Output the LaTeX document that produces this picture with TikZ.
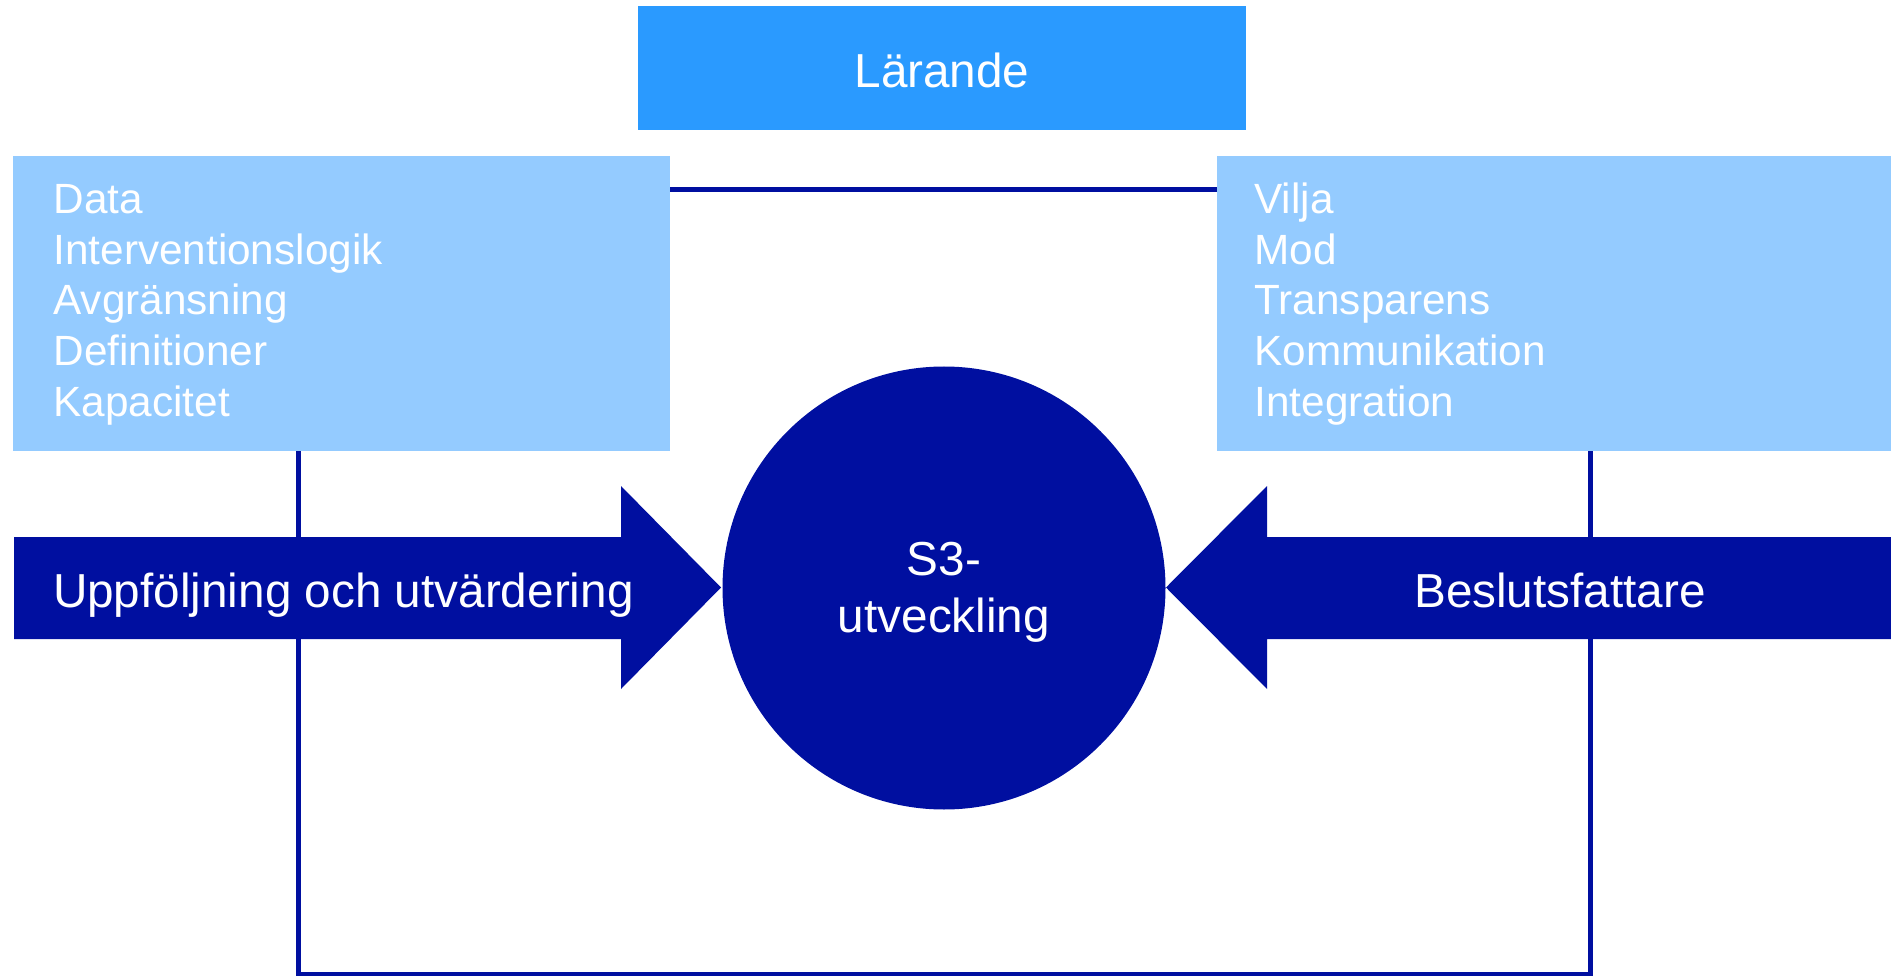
\documentclass[tikz,border=0pt]{standalone}
\usepackage{fontspec}
\setmainfont{Liberation Sans}
\definecolor{blaa}{RGB}{42,154,255}
\definecolor{ljusblaa}{RGB}{148,203,255}
\definecolor{morkblaa}{RGB}{0,15,160}
\begin{document}
\begin{tikzpicture}[x=1pt,y=-1pt,line width=5pt,
	ruta/.style={fill=ljusblaa,anchor=north west,inner sep=0pt,outer sep=0pt,minimum height=295pt},
	stor/.style={text=white,inner sep=0pt,outer sep=0pt,font=\fontsize{47.7}{57.2}\selectfont},
	lista/.style={text=white,inner sep=0pt,anchor=base west,font=\fontsize{42.3}{50.6}\selectfont}]
		\useasboundingbox (0,0) rectangle (1891,976);
		\coordinate (hornV) at (298,974);
		\coordinate (hornH) at (1590,974);
		\node[ruta,minimum width=657pt] (kunskap) at (13,156) {};
		\node[ruta,minimum width=674pt] (ledning) at (1217,156) {};
		\draw[morkblaa] ([yshift=-34pt]kunskap.north east) -- ([yshift=-34pt]ledning.north west);
		\draw[morkblaa] (kunskap.south -| hornV) -- (hornV) -- (hornH) -- (ledning.south -| hornH);
		\node[stor,fill=blaa,anchor=north west,minimum width=608pt,minimum height=124pt,text height=40pt,text depth=0pt] (larande) at (638,6) {Lärande};
		\foreach \t [count=\i] in {Data,Interventionslogik,Avgränsning,Definitioner,Kapacitet}
		\node[lista] (k\i) at (51,163.5+50.5*\i) {\t};
		\foreach \t [count=\i] in {Vilja,Mod,Transparens,Kommunikation,Integration}
		\node[lista] (l\i) at (1252,163.5+50.5*\i) {\t};
		\fill[morkblaa] (14,537) -- (621,537) -- (621,486) -- (721,587.5) -- (621,689) -- (621,639) -- (14,639) -- cycle;
		\node[stor,anchor=base west] (uppfoljning) at (53,607) {Uppföljning och utvärdering};
		\fill[morkblaa] (1891,537) -- (1267,537) -- (1267,486) -- (1166,587.5) -- (1267,689) -- (1267,639) -- (1891,639) -- cycle;
		\node[stor,anchor=base] (beslut) at (1560,607) {Beslutsfattare};
		\node[circle,fill=morkblaa,minimum size=443pt,inner sep=0pt] (s3) at (944,588) {};
		\node[stor,align=center] (s3text) at ([yshift=-4pt]s3.center) {S3-\\utveckling};
		\end{tikzpicture}
\end{document}
